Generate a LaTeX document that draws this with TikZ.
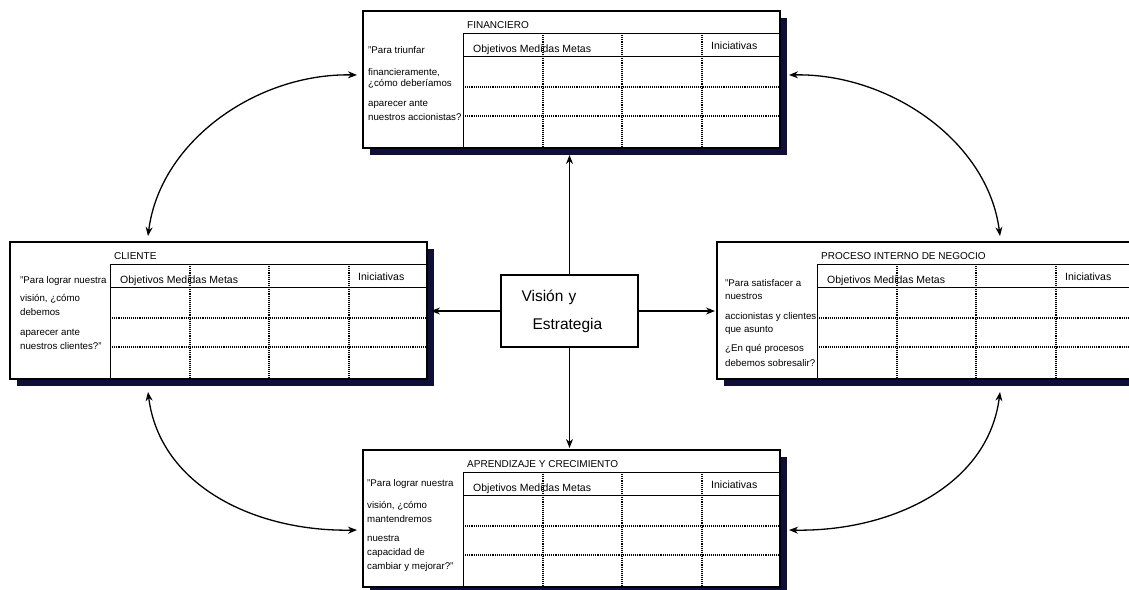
\documentclass[tikz,border=0pt]{standalone}
\usepackage{fontspec}
\setmainfont{Liberation Sans}
\usepackage{tikz}
\usetikzlibrary{calc}
\usetikzlibrary{arrows.meta}
\definecolor{shadownavy}{RGB}{14,14,56}
\tikzset{
  outerbox/.style={draw, line width=2.4pt, fill=white, minimum width=417pt, minimum height=137pt, inner sep=0pt, outer sep=0pt},
  shadowbox/.style={fill=shadownavy, minimum width=417pt, minimum height=137pt, inner sep=0pt, outer sep=0pt},
  gridline/.style={line width=1.1pt, densely dotted},
  tableline/.style={line width=1pt},
  titletext/.style={font=\fontsize{10}{12}\selectfont, inner sep=0pt},
  headtext/.style={font=\fontsize{10.5}{12}\selectfont, inner sep=0pt},
  question/.style={font=\fontsize{9.7}{11}\selectfont, align=left, inner sep=0pt, anchor=north west},
  visionbox/.style={draw, line width=1.3pt, minimum width=137pt, minimum height=72pt, text width=96pt, align=left, font=\fontsize{15.5}{18}\selectfont},
  straightarrow/.style={line width=1.3pt, -{Stealth[length=9pt,width=7pt]}},
  curvearrow/.style={line width=1.3pt, {Stealth[length=9pt,width=7pt]}-{Stealth[length=9pt,width=7pt]}}
}
% perspective box: name, x, y, title
\newcommand{\perspbox}[4]{
  \node[shadowbox, anchor=north west] (#1s) at (#2+7,#3+7) {};
  \node[outerbox, anchor=north west] (#1) at (#2,#3) {};
  \draw[tableline] (#2+100,#3+137) -- (#2+100,#3+22) -- (#2+417,#3+22);
  \draw[tableline] (#2+100,#3+45) -- (#2+417,#3+45);
  \foreach \dy in {76,105} \draw[gridline] (#2+100,#3+\dy) -- (#2+417,#3+\dy);
  \foreach \dx in {180,259,339} \draw[gridline] (#2+\dx,#3+22) -- (#2+\dx,#3+137);
  \node[titletext, anchor=base west] (#1t) at (#2+104,#3+17) {#4};
  \node[headtext, anchor=base west] (#1o) at (#2+110,#3+41) {Objetivos Medidas Metas};
  \node[headtext, anchor=base west] (#1i) at (#2+348,#3+38) {Iniciativas};
}

\begin{document}
\begin{tikzpicture}[x=1pt, y=-1pt]
    \useasboundingbox (0,0) rectangle (1129,589);
    % boxes
    \perspbox{fin}{363}{11}{FINANCIERO}
    \perspbox{cli}{10}{242}{CLIENTE}
    \perspbox{pro}{717}{242}{PROCESO INTERNO DE NEGOCIO}
    \perspbox{apr}{363}{450}{APRENDIZAJE Y CRECIMIENTO}
    % questions
    \node[question] (finq) at (368,46.5) {"Para triunfar\\[10.5pt]financieramente,\\¿cómo deberíamos\\[9pt]aparecer ante\\[3pt]nuestros accionistas?};
    \node[question] (cliq) at (20,276.5) {"Para lograr nuestra\\[7pt]visión, ¿cómo\\[3pt]debemos\\[9pt]aparecer ante\\[3pt]nuestros clientes?"};
    \node[question] (proq) at (725,279.5) {"Para satisfacer a\\[2pt]nuestros\\[9pt]accionistas y clientes,\\[2pt]que asunto\\[8pt]¿En qué procesos\\[4pt]debemos sobresalir?};
    \node[question] (aprq) at (367,479.5) {"Para lograr nuestra\\[11pt]visión, ¿cómo\\[3pt]mantendremos\\[8pt]nuestra\\[3pt]capacidad de\\[3pt]cambiar y mejorar?"};
    % center
    \node[visionbox, fill=white] (vis) at (569.5,311) {Visión y\\[10pt]\hspace*{11pt}Estrategia};
    \draw[straightarrow] (vis.north) -- (vis.north |- fins.south);
    \draw[straightarrow, shorten >=2pt] (vis.south) -- (vis.south |- apr.north);
    \draw[straightarrow, shorten >=-3pt] (vis.west) -- (vis.west -| clis.east);
    \draw[straightarrow, shorten >=2pt] (vis.east) -- (vis.east -| pro.west);
    % curves
    \draw[curvearrow] ($(cli.north west)+(138,-6)$) .. controls +(12,-95) and +(-100,-2) .. ($(fin.west)+(-6,-4.5)$);
    \draw[curvearrow] ($(fins.east)+(2,-11.5)$) .. controls +(100,-2) and +(-12,-95) .. ($(pro.north west)+(283,-6)$);
    \draw[curvearrow] ($(clis.south west)+(131,6)$) .. controls +(12,95) and +(-100,2) .. ($(apr.west)+(-6,11.5)$);
    \draw[curvearrow] ($(pros.south west)+(276,6)$) .. controls +(-12,95) and +(100,2) .. ($(aprs.east)+(2,4.5)$);
\end{tikzpicture}
\end{document}
